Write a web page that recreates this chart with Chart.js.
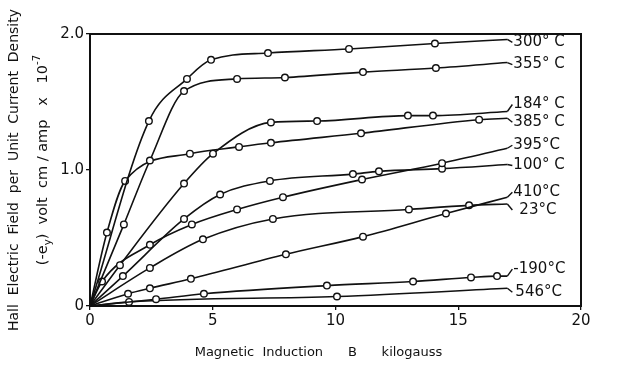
<!DOCTYPE html>
<html><head><meta charset="utf-8">
<script src="https://cdn.jsdelivr.net/npm/chart.js@4"></script>
<style>html,body{margin:0;padding:0;background:#fff}</style>
</head><body>
<canvas id="c" width="640" height="370"></canvas>
<script>
// ---- data (B in kilogauss, Hall field in volt cm/amp x 1e-7) ----
const xTicks = [0, 5, 10, 15, 20];
const yTicks = [0, 1.0, 2.0];
const curveNames = ['300° C', '355° C', '184° C', '385° C', '395°C', '100° C', '410°C', '23°C', '-190°C', '546°C'];

const b300 = [0, 2.40, 3.95, 4.93, 7.25, 10.55, 14.05, 17.0];
const v300 = [0, 1.36, 1.67, 1.81, 1.86, 1.89, 1.93, 1.96];
const b355 = [0, 1.38, 2.44, 3.83, 5.99, 7.94, 11.12, 14.09, 17.0];
const v355 = [0, 0.60, 1.07, 1.58, 1.67, 1.68, 1.72, 1.75, 1.79];
const b184 = [0, 1.22, 3.83, 5.01, 7.37, 9.25, 12.95, 13.97, 17.0];
const v184 = [0, 0.30, 0.90, 1.12, 1.35, 1.36, 1.40, 1.40, 1.43];
const b385 = [0, 0.69, 1.43, 4.07, 6.07, 7.37, 11.04, 15.85, 17.0];
const v385 = [0, 0.54, 0.92, 1.12, 1.17, 1.20, 1.27, 1.37, 1.38];
const b395 = [0, 0.49, 2.44, 4.15, 5.99, 7.86, 11.08, 14.34, 17.0];
const v395 = [0, 0.18, 0.45, 0.60, 0.71, 0.80, 0.93, 1.05, 1.16];
const b100 = [0, 1.34, 3.83, 5.30, 7.33, 10.71, 11.77, 14.34, 17.0];
const v100 = [0, 0.22, 0.64, 0.82, 0.92, 0.97, 0.99, 1.01, 1.04];
const b410 = [0, 1.55, 2.44, 4.11, 7.98, 11.12, 14.50, 17.0];
const v410 = [0, 0.09, 0.13, 0.20, 0.38, 0.51, 0.68, 0.80];
const b23  = [0, 2.44, 4.60, 7.45, 12.99, 15.44, 17.0];
const v23  = [0, 0.28, 0.49, 0.64, 0.71, 0.74, 0.75];
const bM190 = [0, 2.69, 4.64, 9.65, 13.16, 15.52, 16.58, 17.0];
const vM190 = [0, 0.05, 0.09, 0.15, 0.18, 0.21, 0.22, 0.22];
const b546 = [0, 1.59, 10.06, 17.0];
const v546 = [0, 0.03, 0.07, 0.13];

const seriesB = [b300, b355, b184, b385, b395, b100, b410, b23, bM190, b546];
const seriesV = [v300, v355, v184, v385, v395, v100, v410, v23, vM190, v546];

// ---- styling ----
const FONT = "'DejaVu Sans', sans-serif";
const INK = '#111';
const labelDy = [3, 2, -7, 4, -3, 1, -5, 6, -7, 4];
const labelDx = [0, 0, 0, 0, 0, 0, 0, 6, 0, 2];

const datasets = seriesB.map((bs, i) => ({
  label: curveNames[i],
  data: bs.map((b, k) => ({ x: b, y: seriesV[i][k] })),
  borderColor: INK,
  borderWidth: 1.6,
  backgroundColor: '#fff',
  pointBackgroundColor: '#fff',
  pointBorderColor: INK,
  pointBorderWidth: 1.4,
  pointRadius: (c) => (c.dataIndex === 0 || c.dataIndex === bs.length - 1) ? 0 : 3.3,
  cubicInterpolationMode: 'monotone',
  fill: false,
  clip: false
}));

const framePlugin = {
  id: 'frame',
  beforeDatasetsDraw(chart) {
    const { ctx, chartArea: a } = chart;
    ctx.save();
    ctx.strokeStyle = INK;
    ctx.lineWidth = 2;
    ctx.strokeRect(a.left, a.top, a.right - a.left, a.bottom - a.top);
    ctx.restore();
  },
  afterDatasetsDraw(chart) {
    const { ctx, chartArea: a } = chart;
    ctx.save();
    ctx.fillStyle = INK;
    ctx.strokeStyle = INK;
    ctx.lineWidth = 1.4;
    ctx.font = '15px ' + FONT;
    ctx.textBaseline = 'middle';
    ctx.textAlign = 'left';
    chart.data.datasets.forEach((ds, i) => {
      const meta = chart.getDatasetMeta(i);
      const last = meta.data[meta.data.length - 1];
      const ly = last.y + labelDy[i];
      ctx.beginPath();
      ctx.moveTo(last.x, last.y);
      ctx.lineTo(last.x + 5, ly);
      ctx.stroke();
      ctx.fillText(ds.label, last.x + 6 + labelDx[i], ly);
    });

    // y-axis title (two lines, rotated)
    const drawRich = (parts, cx, cy, size) => {
      ctx.save();
      ctx.translate(cx, cy);
      ctx.rotate(-Math.PI / 2);
      let total = 0;
      parts.forEach(p => { ctx.font = (p.s ? size * 0.7 : size) + 'px ' + FONT; total += ctx.measureText(p.t).width; });
      let x = -total / 2;
      ctx.textAlign = 'left';
      ctx.textBaseline = 'middle';
      parts.forEach(p => {
        ctx.font = (p.s ? size * 0.7 : size) + 'px ' + FONT;
        ctx.fillText(p.t, x, p.s === 'sub' ? size * 0.35 : p.s === 'sup' ? -size * 0.4 : 0);
        x += ctx.measureText(p.t).width;
      });
      ctx.restore();
    };
    drawRich([{ t: 'Hall  Electric  Field  per  Unit  Current  Density' }], 14, 170, 14);
    drawRich([{ t: '(-e' }, { t: 'y', s: 'sub' }, { t: ')  volt  cm / amp   x   10' }, { t: '-7', s: 'sup' }], 43, 160, 14.5);

    // x-axis title
    ctx.font = '13px ' + FONT;
    ctx.textAlign = 'center';
    ctx.textBaseline = 'middle';
    ctx.fillText('Magnetic  Induction      B      kilogauss', (a.left + a.right) / 2 - 17, 353);
    ctx.restore();
  }
};

new Chart(document.getElementById('c'), {
  type: 'line',
  data: { datasets },
  options: {
    responsive: false,
    animation: false,
    events: [],
    layout: { padding: { top: 34, right: 59, left: 0, bottom: 0 } },
    plugins: { legend: { display: false }, tooltip: { enabled: false } },
    scales: {
      x: {
        type: 'linear', min: 0, max: 20,
        afterBuildTicks: s => { s.ticks = xTicks.map(v => ({ value: v })); },
        ticks: { font: { family: FONT, size: 15 }, color: INK, padding: 2, maxRotation: 0 },
        grid: { display: true, drawOnChartArea: false, drawTicks: true, tickLength: 4, color: INK, lineWidth: 1.3 },
        border: { display: true, color: INK, width: 2 },
        afterFit: s => { s.height = 64; }
      },
      y: {
        type: 'linear', min: 0, max: 2,
        afterBuildTicks: s => { s.ticks = yTicks.map(v => ({ value: v })); },
        ticks: { font: { family: FONT, size: 15 }, color: INK, padding: 2, callback: v => v === 0 ? '0' : v.toFixed(1) },
        grid: { display: true, drawOnChartArea: false, drawTicks: true, tickLength: 4, color: INK, lineWidth: 1.3 },
        border: { display: true, color: INK, width: 2 },
        afterFit: s => { s.width = 90; }
      }
    }
  },
  plugins: [framePlugin]
});
</script>
</body></html>
